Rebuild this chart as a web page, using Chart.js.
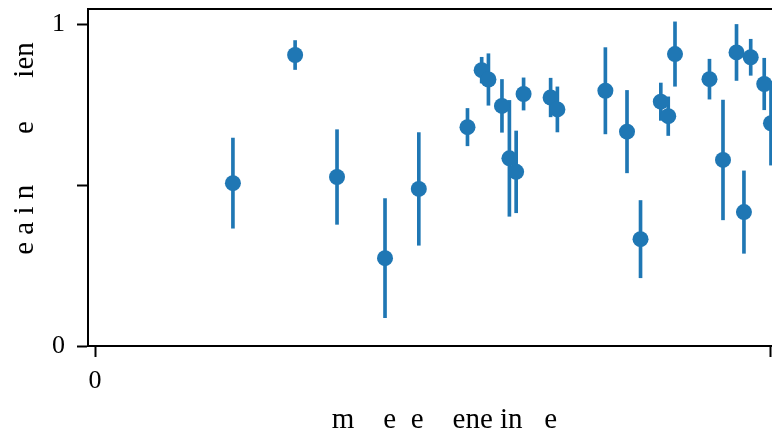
<!DOCTYPE html>
<html>
<head>
<meta charset="utf-8">
<script src="https://cdn.jsdelivr.net/npm/chart.js@4.4.1/dist/chart.umd.min.js"></script>
<style>
  html, body { margin: 0; padding: 0; background: #fff; }
</style>
</head>
<body>
<canvas id="myChart" width="772" height="439"></canvas>
<script>
// values
const xs = [20.4, 29.6, 35.8, 42.9, 47.9, 55.1, 57.2, 58.2, 60.2, 61.3, 62.3, 63.4, 67.4, 68.4,
  75.5, 78.7, 80.7, 83.7, 84.8, 85.8, 90.9, 92.9, 94.9, 96.0, 97.0, 99.0, 100.0]
const ys = [0.506, 0.904, 0.525, 0.273, 0.488, 0.680, 0.857, 0.828, 0.746, 0.583, 0.541, 0.783, 0.772, 0.735,
  0.793, 0.666, 0.332, 0.759, 0.714, 0.907, 0.829, 0.578, 0.912, 0.416, 0.897, 0.814, 0.692]
const errs = [0.140, 0.045, 0.147, 0.185, 0.175, 0.058, 0.040, 0.080, 0.082, 0.180, 0.127, 0.050, 0.060, 0.070,
  0.134, 0.128, 0.120, 0.058, 0.060, 0.100, 0.062, 0.186, 0.087, 0.128, 0.056, 0.080, 0.130]
const xTicks = [0, 100]
const xTickLabels = ['0', '']
const yTicks = [0, 0.5, 1]
const yTickLabels = ['0', '', '1']
const xTitle = '    m    e  e    ene in   e'
const yTitle = '        e a i n       e      ien'

const blue = '#1f77b4'
const font = { family: "'Liberation Serif', serif", size: 26 }
const titleFont = { family: "'Liberation Serif', serif", size: 29 }

const points = xs.map((x, i) => ({ x: x, y: ys[i] }))
const bars = xs.map((x, i) => ({ x: x, y: [ys[i] - errs[i], ys[i] + errs[i]] }))

const topSpine = {
  id: 'topSpine',
  afterDraw(chart) {
    const a = chart.chartArea
    const ctx = chart.ctx
    ctx.save()
    ctx.strokeStyle = '#000'
    ctx.lineWidth = 2
    ctx.beginPath()
    ctx.moveTo(a.left - 1, a.top)
    ctx.lineTo(a.right, a.top)
    ctx.stroke()
    ctx.restore()
  }
}

new Chart('myChart', {
  type: 'scatter',
  data: {
    datasets: [{
      type: 'scatter',
      data: points,
      order: 0,
      pointRadius: 8,
      pointHoverRadius: 8,
      pointBackgroundColor: blue,
      pointBorderWidth: 0
    }, {
      type: 'bar',
      data: bars,
      order: 1,
      backgroundColor: blue,
      borderWidth: 0,
      barThickness: 3
    }]
  },
  options: {
    responsive: false,
    animation: false,
    devicePixelRatio: 1,
    layout: { autoPadding: false, padding: { top: 9, left: 0, right: 0, bottom: 0 } },
    plugins: { legend: { display: false }, tooltip: { enabled: false } },
    scales: {
      x: {
        type: 'linear',
        min: -1.04,
        max: 100.15,
        offset: false,
        afterBuildTicks: (s) => { s.ticks = xTicks.map(v => ({ value: v })) },
        afterFit: (s) => { s.height = 93; s.paddingLeft = 0; s.paddingRight = 0 },
        ticks: {
          color: '#000', font: font, padding: 9, maxRotation: 0, autoSkip: false,
          callback: (v) => xTickLabels[xTicks.indexOf(v)]
        },
        grid: { drawOnChartArea: false, drawTicks: true, tickLength: 11, tickColor: '#000', tickWidth: 2, offset: false },
        border: { display: true, color: '#000', width: 2 },
        title: { display: true, text: xTitle, color: '#000', font: titleFont, padding: { top: 0, bottom: 1 } }
      },
      y: {
        min: 0,
        max: 1.047,
        afterBuildTicks: (s) => { s.ticks = yTicks.map(v => ({ value: v })) },
        afterFit: (s) => { s.width = 88; s.paddingTop = 0; s.paddingBottom = 0 },
        ticks: {
          color: '#000', font: font, padding: 12, autoSkip: false,
          callback: (v) => yTickLabels[yTicks.indexOf(v)]
        },
        grid: { drawOnChartArea: false, drawTicks: true, tickLength: 11, tickColor: '#000', tickWidth: 2 },
        border: { display: true, color: '#000', width: 2 },
        title: { display: true, text: yTitle, color: '#000', font: titleFont, padding: { top: 8, bottom: 0 } }
      }
    }
  },
  plugins: [topSpine]
})
</script>
</body>
</html>
